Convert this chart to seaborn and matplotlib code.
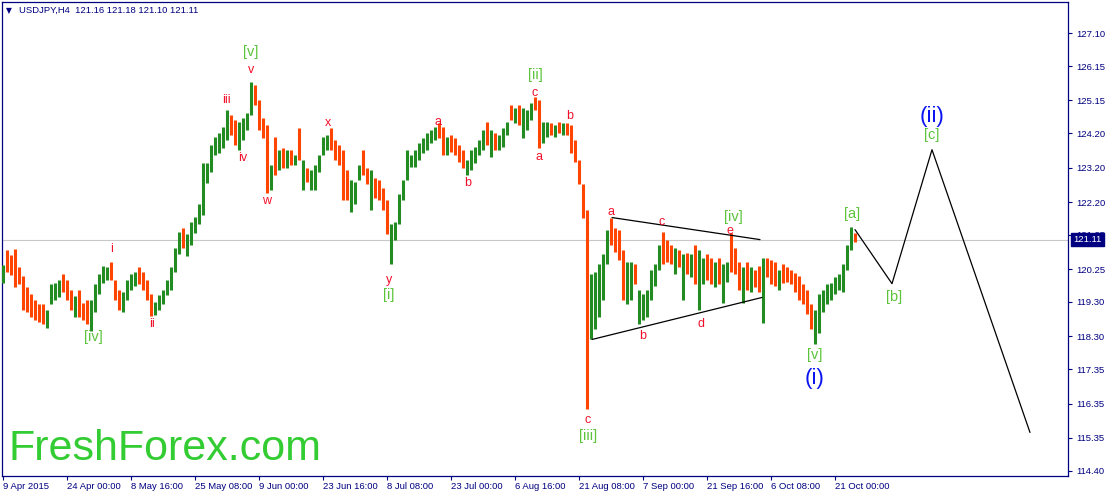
import matplotlib
matplotlib.use("Agg")
import matplotlib.pyplot as plt
import seaborn as sns
import numpy as np
import pandas as pd

# ---------------- data ----------------
high = [120.36, 120.82, 120.65, 120.85, 120.30, 120.04, 119.72, 119.52, 119.37, 119.23,
        119.23, 119.08, 119.81, 119.86, 119.95, 120.12, 119.95, 119.66, 119.46, 119.66,
        119.28, 119.37, 119.37, 119.81, 120.10, 120.33, 120.30, 120.47, 119.95, 119.66,
        119.60, 119.95, 120.10, 120.18, 120.30, 120.18, 119.95, 119.52, 119.31, 119.49,
        119.66, 119.95, 120.30, 120.88, 121.34, 121.46, 121.26, 121.63, 121.78, 122.13,
        123.34, 123.34, 123.87, 124.10, 124.21, 124.39, 124.88, 124.74, 124.59, 124.53,
        124.65, 124.79, 125.69, 125.61, 125.17, 124.65, 124.45, 123.29, 124.10, 123.72,
        123.78, 123.72, 123.72, 123.58, 124.36, 123.43, 123.20, 123.14, 123.29, 123.58,
        124.10, 124.16, 124.36, 124.01, 123.87, 123.72, 123.14, 122.85, 122.79, 123.29,
        123.72, 123.20, 123.14, 122.91, 122.85, 122.62, 122.27, 121.55, 121.63, 122.42,
        122.85, 123.72, 123.58, 123.72, 123.92, 124.07, 124.21, 124.30, 124.39, 124.50,
        124.39, 124.10, 124.16, 124.07, 123.87, 123.72, 123.43, 123.72, 123.81, 124.01,
        124.30, 124.53, 124.30, 124.21, 124.16, 124.36, 124.53, 125.03, 124.94, 125.03,
        124.94, 124.88, 125.08, 125.26, 125.17, 124.53, 124.53, 124.50, 124.45, 124.53,
        124.50, 124.50, 124.45, 124.01, 123.43, 122.71, 121.98, 120.10, 120.18, 120.39,
        120.68, 121.40, 121.75, 121.46, 121.40, 120.82, 120.47, 120.47, 120.39, 119.66,
        119.52, 119.66, 120.24, 120.39, 120.96, 121.34, 121.11, 120.96, 120.88, 120.82,
        120.68, 120.73, 120.68, 120.96, 120.82, 120.59, 120.68, 120.59, 120.47, 120.59,
        120.39, 120.47, 121.31, 120.88, 120.47, 120.30, 120.47, 120.30, 120.24, 120.33,
        120.59, 120.59, 120.53, 120.47, 120.24, 120.39, 120.30, 120.24, 120.15, 120.04,
        119.81, 119.66, 119.23, 119.08, 119.52, 119.66, 119.81, 119.86, 120.01, 120.10,
        120.39, 120.96, 121.49, 121.30]

low = [119.86, 120.18, 120.07, 119.72, 119.81, 119.08, 119.02, 118.85, 118.79, 118.73,
       118.65, 118.53, 119.23, 119.37, 119.43, 119.60, 119.37, 119.08, 118.85, 118.85,
       118.79, 118.65, 118.47, 119.02, 119.52, 119.86, 119.95, 119.95, 119.37, 119.08,
       119.02, 119.37, 119.66, 119.75, 119.81, 119.66, 119.37, 118.88, 118.91, 119.08,
       119.23, 119.49, 119.66, 120.18, 120.68, 120.88, 120.62, 120.96, 121.31, 121.55,
       121.83, 122.76, 123.08, 123.58, 123.63, 123.78, 124.01, 124.16, 123.87, 123.72,
       124.01, 124.30, 124.74, 125.03, 124.30, 124.07, 122.47, 122.56, 122.99, 123.14,
       123.20, 123.20, 123.29, 123.29, 123.43, 122.56, 122.79, 122.56, 122.56, 123.08,
       123.58, 123.72, 123.72, 123.43, 123.29, 122.27, 122.27, 121.92, 122.13, 122.85,
       122.99, 122.71, 121.98, 122.33, 122.27, 121.98, 121.26, 120.39, 121.11, 121.55,
       122.27, 122.85, 123.23, 123.23, 123.43, 123.63, 123.72, 123.92, 124.01, 124.07,
       123.58, 123.58, 123.66, 123.58, 123.37, 123.20, 122.99, 123.14, 123.34, 123.58,
       123.72, 123.87, 123.52, 123.72, 123.72, 123.81, 124.16, 124.59, 124.50, 124.45,
       124.07, 124.30, 124.59, 124.88, 123.78, 123.92, 124.10, 124.16, 124.10, 124.21,
       124.16, 124.16, 123.63, 123.37, 122.71, 121.75, 116.18, 118.21, 118.50, 118.85,
       119.37, 120.39, 120.96, 120.76, 120.53, 119.37, 119.23, 119.37, 119.81, 118.65,
       118.79, 118.85, 119.37, 119.75, 120.24, 120.39, 120.47, 120.39, 120.10, 120.30,
       119.37, 120.10, 120.01, 119.81, 119.08, 119.81, 119.95, 119.81, 119.72, 119.81,
       119.28, 119.89, 120.18, 120.10, 119.66, 119.28, 119.66, 119.60, 119.72, 119.60,
       118.70, 120.01, 119.81, 119.75, 119.66, 119.86, 119.89, 119.81, 119.60, 119.37,
       119.23, 118.94, 118.50, 118.07, 118.41, 119.02, 119.23, 119.37, 119.52, 119.66,
       119.60, 120.24, 120.82, 121.05]

close = [120.50, 120.36, 120.28, 120.05, 119.56, 119.37, 119.18, 119.08, 118.98, 118.94,
         118.80, 119.52, 119.61, 119.69, 119.86, 119.66, 119.37, 119.15, 119.25, 119.03,
         119.01, 118.92, 119.41, 119.81, 120.10, 120.12, 120.21, 119.66, 119.37, 119.31,
         119.66, 119.88, 119.96, 120.05, 119.92, 119.66, 119.20, 119.11, 119.28, 119.44,
         119.72, 119.98, 120.53, 121.01, 121.17, 120.94, 121.30, 121.55, 121.84, 122.58,
         123.05, 123.48, 123.84, 123.92, 124.09, 124.45, 124.45, 124.23, 124.13, 124.33,
         124.55, 125.22, 125.32, 124.74, 124.36, 123.46, 122.93, 123.55, 123.43, 123.49,
         123.46, 123.51, 123.44, 123.90, 123.00, 123.00, 122.85, 122.93, 123.33, 123.84,
         123.94, 124.04, 123.72, 123.58, 123.00, 122.71, 122.39, 122.46, 123.07, 123.36,
         122.96, 122.56, 122.62, 122.56, 122.30, 121.77, 120.97, 121.37, 121.99, 122.56,
         123.29, 123.41, 123.48, 123.68, 123.85, 123.97, 124.11, 124.20, 124.29, 123.99,
         123.84, 123.91, 123.83, 123.62, 123.46, 123.21, 123.43, 123.58, 123.80, 124.01,
         124.20, 123.91, 123.97, 123.94, 124.09, 124.35, 124.81, 124.72, 124.74, 124.51,
         124.59, 124.84, 125.07, 124.48, 124.23, 124.32, 124.33, 124.28, 124.37, 124.33,
         124.33, 124.04, 123.69, 123.07, 122.23, 119.37, 119.15, 119.34, 119.62, 120.03,
         120.90, 121.36, 121.11, 120.97, 120.10, 119.85, 119.92, 120.10, 119.16, 119.16,
         119.26, 119.81, 120.07, 120.60, 120.87, 120.79, 120.68, 120.49, 120.56, 120.03,
         120.42, 120.35, 120.39, 119.95, 120.20, 120.32, 120.20, 120.10, 120.20, 119.84,
         120.18, 120.75, 120.49, 120.07, 119.79, 120.07, 119.95, 119.98, 119.97, 119.65,
         120.30, 120.17, 120.11, 119.95, 120.13, 120.10, 120.03, 119.88, 119.71, 119.52,
         119.30, 118.87, 118.58, 118.97, 119.34, 119.52, 119.62, 119.77, 119.88, 120.00,
         120.60, 121.16, 121.18, 121.11]

first_open = 120.20
last_price = 121.11

date_tick_bars = [0, 16, 32, 48, 64, 80, 96, 112, 128, 144, 160, 176, 192, 208]
date_labels = ["9 Apr 2015", "24 Apr 00:00", "8 May 16:00", "25 May 08:00",
               "9 Jun 00:00", "23 Jun 16:00", "8 Jul 08:00", "23 Jul 00:00",
               "6 Aug 16:00", "21 Aug 08:00", "7 Sep 00:00", "21 Sep 16:00",
               "6 Oct 08:00", "21 Oct 00:00"]
price_ticks = [127.10, 126.15, 125.15, 124.20, 123.20, 122.20, 121.25, 120.25,
               119.30, 118.30, 117.35, 116.35, 115.35, 114.40]

# triangle (bar index, price)
tri_upper_bar = [152.25, 189.25]
tri_upper_price = [121.75, 121.11]
tri_lower_bar = [147.25, 189.75]
tri_lower_price = [118.21, 119.43]
# projected path
proj_bar = [213.0, 222.25, 232.25, 256.75]
proj_price = [121.40, 119.83, 123.72, 115.51]

# wave labels: (text, bar, price, kind)
wave_text = ["[v]", "v", "iii", "iv", "x", "w", "i", "ii", "[iv]", "a", "b", "y", "[i]",
             "[ii]", "c", "a", "b", "c", "[iii]", "a", "c", "[iv]", "e", "b", "d",
             "[v]", "(i)", "[a]", "[b]", "(ii)", "[c]"]
wave_bar = [62, 62, 55.75, 60, 81.25, 66, 27.25, 37.25, 22.5, 108.75, 116.25, 96.5, 96.5,
            133, 133, 134, 141.75, 146.25, 146.25, 152, 164.75, 182.5, 181.75, 160, 174.5,
            203, 203, 212.25, 222.75, 232.25, 232.25]
wave_price = [126.56, 126.04, 125.17, 123.49, 124.50, 122.24, 120.85, 118.65, 118.27,
              124.53, 122.76, 119.95, 119.49, 125.90, 125.37, 123.52, 124.71, 115.86,
              115.40, 121.92, 121.63, 121.78, 121.37, 118.30, 118.65, 117.75, 117.08,
              121.86, 119.43, 124.68, 124.15]
wave_kind = ["major", "minor", "minor", "minor", "minor", "minor", "minor", "minor", "major",
             "minor", "minor", "minor", "major", "major", "minor", "minor", "minor", "minor",
             "major", "minor", "minor", "major", "minor", "minor", "minor", "major",
             "inter", "major", "major", "inter", "major"]

# ---------------- figure ----------------
sns.set_style("white")
plt.rcParams['font.family'] = ['Liberation Sans', 'DejaVu Sans']

W, H = 1110, 492
fig = plt.figure(figsize=(W / 100, H / 100), dpi=100)
L, R, T, B = 2, 1068, 2, 476
ax = fig.add_axes([L / W, 1 - B / H, (R - L) / W, (B - T) / H])
ax.set_facecolor("white")

NAVY = "#000080"
UP = "#228B22"
DOWN = "#FF4500"

df = pd.DataFrame({"high": high, "low": low, "close": close})
df["bar"] = np.arange(len(df))
df["open"] = [first_open] + close[:-1]
cols = [UP if c >= o else DOWN for c, o in zip(df["close"], df["open"])]

ax.axhline(last_price, color="#C8C8C8", lw=0.8, zorder=1)
ax.vlines(df["bar"], df["low"], df["high"], colors=cols, linewidth=2.2, zorder=3,
          capstyle="butt")

for bx, py in [(tri_upper_bar, tri_upper_price), (tri_lower_bar, tri_lower_price),
               (proj_bar, proj_price)]:
    sns.lineplot(x=bx, y=py, sort=False, estimator=None, color="black", lw=0.9,
                 ax=ax, zorder=4)

styles = {"minor": dict(color="#F0102A", fontsize=9),
          "major": dict(color="#5CC43A", fontsize=10.5),
          "inter": dict(color="#0A14F0", fontsize=16)}
for t, bx, py, k in zip(wave_text, wave_bar, wave_price, wave_kind):
    ax.text(bx, py, t, ha="center", va="center", zorder=5, **styles[k])

ax.set_xlim(-0.25, 266.25)
ax.set_ylim(114.246, 128.009)

ax.set_xticks(date_tick_bars)
ax.set_xticklabels(date_labels, ha="left", fontsize=6.8, color=NAVY)
ax.tick_params(axis="x", length=3, color=NAVY, width=0.8, pad=1.5, bottom=True)
ax.yaxis.tick_right()
ax.set_yticks(price_ticks)
ax.set_yticklabels([f"{p:.2f}" for p in price_ticks], fontsize=6.8, color=NAVY)
ax.tick_params(axis="y", length=3, color=NAVY, width=0.8, pad=3, right=True)
for s in ax.spines.values():
    s.set_color(NAVY)
    s.set_linewidth(0.9)
ax.set_xlabel("")
ax.set_ylabel("")
ax.grid(False)

# current price box (covers the 121.25 tick label, as in the reference)
ax.annotate(f"{last_price:.2f}", xy=(1, last_price), xycoords=("axes fraction", "data"),
            xytext=(4, 0), textcoords="offset points", ha="left", va="center",
            fontsize=6.8, color="white", zorder=10, annotation_clip=False,
            bbox=dict(boxstyle="square,pad=0.25", fc=NAVY, ec=NAVY))

# header
fig.text(6 / W, 1 - 10.5 / H, "\u25BC", fontsize=5.5, color=NAVY, va="center",
         ha="left", family=["DejaVu Sans"])
fig.text(19 / W, 1 - 10.5 / H, "USDJPY,H4  121.16 121.18 121.10 121.11",
         fontsize=6.8, color=NAVY, va="center", ha="left")

# watermark
fig.text(8 / W, 1 - 460 / H, "FreshForex.com", fontsize=31, color="#33CC33",
         ha="left", va="baseline")

fig.savefig("out.png", dpi=100)
